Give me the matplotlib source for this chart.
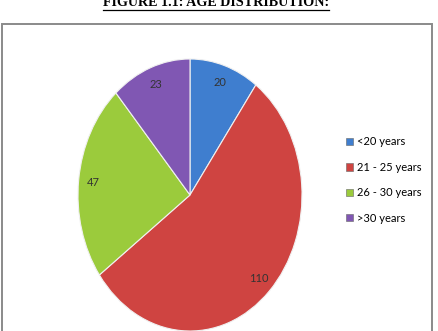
import matplotlib
matplotlib.use("Agg")
import matplotlib.pyplot as plt
from matplotlib.patches import Rectangle, Patch
from matplotlib.lines import Line2D

categories = ["<20 years", "21 - 25 years", "26 - 30 years", ">30 years"]
values = [20, 110, 47, 23]
colors = ["#3F7ECF", "#CF4441", "#9BCB3C", "#8057B3"]
title = "FIGURE 1.1: AGE DISTRIBUTION:"

W, H = 438, 331
fig = plt.figure(figsize=(W / 100, H / 100), dpi=100)
fig.patch.set_facecolor("white")

# frame box
frame = Rectangle((2 / W, -0.05), 430 / W, (H - 24) / H + 0.05, transform=fig.transFigure,
                  fill=False, edgecolor="#8a8a8a", linewidth=1.4)
fig.patches.append(frame)

# title
t = fig.text(216 / W, 1 - 6 / H, title, ha="center", va="baseline",
             fontsize=10.2, fontweight="bold", family="Liberation Serif", color="black")
fig.canvas.draw()
bb = t.get_window_extent()
uy = bb.y0 - 1.0
fig.add_artist(Line2D([bb.x0 / W, bb.x1 / W], [uy / H, uy / H], transform=fig.transFigure,
                      color="black", linewidth=0.9))

# pie axes: ellipse rx=112, ry=136 centered at (190,195) px (top-down)
cx, cy, rx, ry = 190, 195, 112, 136
ax = fig.add_axes([(cx - rx) / W, (H - cy - ry) / H, 2 * rx / W, 2 * ry / H])
total = sum(values)
wedges, texts, autotexts = ax.pie(
    values, colors=colors, startangle=90, counterclock=False,
    autopct=lambda p: f"{round(p * total / 100)}", pctdistance=0.87,
    wedgeprops=dict(edgecolor="#f0f0f0", linewidth=0.8),
    textprops=dict(fontsize=8, color="#333333", family="Lato"))
for w in wedges:
    w.set_clip_on(False)
ax.set_aspect("auto")
ax.set_xlim(-1, 1)
ax.set_ylim(-1, 1)
ax.axis("off")

# legend
handles = [Patch(facecolor=c, edgecolor="#666666", linewidth=0.4) for c in colors]
fig.legend(handles, categories, loc="upper left", bbox_to_anchor=(342 / W, 1 - 132 / H),
           frameon=False, prop=dict(family="Lato", size=8),
           handlelength=0.6, handleheight=0.6, handletextpad=0.35, labelspacing=1.3,
           borderaxespad=0)

fig.savefig("out.png", dpi=100, facecolor="white")
